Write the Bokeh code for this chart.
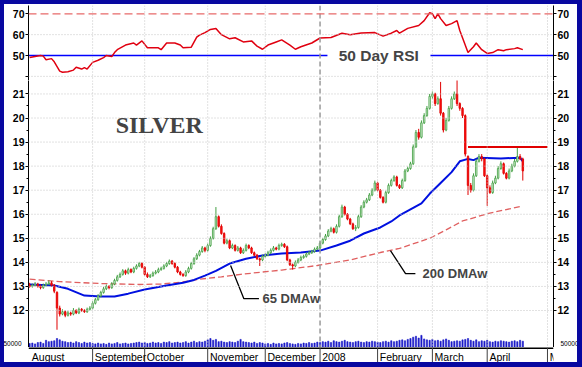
from bokeh.plotting import figure
from bokeh.models import Range1d, LinearAxis, FixedTicker, Label, Span, ColumnDataSource
from bokeh.layouts import column
from bokeh.embed import file_html
from bokeh.resources import INLINE
from bokeh.core.properties import value

try:
    from bokeh.models import GlobalInlineStyleSheet
    page_css = [GlobalInlineStyleSheet(css=(
        "html, body { background-color: #0808a0; overflow: hidden; }"
        " body { padding: 0 !important; margin: 0 !important; }"
        " body::after { content: ''; position: fixed; left: 0; top: 0; right: 0; bottom: 0;"
        " box-sizing: border-box; border-style: solid; border-color: #0808a0;"
        " border-width: 4px 5px 5px 4px; pointer-events: none; z-index: 10000; }"))]
except Exception:
    page_css = []

# ---------------- data ----------------
month_names = ["August", "September", "October", "November", "December", "2008",
               "February", "March", "April", "M"]
month_idx = [0, 23, 42, 65, 86, 106, 127, 147, 167, 189]

close = [13.00, 13.05, 13.10, 13.00, 12.95, 13.05, 13.10, 13.15, 13.05, 12.80,
         12.10, 11.85, 11.95, 11.80, 11.90, 11.85, 12.00, 11.90, 12.05, 12.00,
         11.95, 12.05, 12.10, 12.30, 12.45, 12.60, 12.75, 12.90, 13.00, 12.95,
         13.10, 13.25, 13.40, 13.50, 13.65, 13.55, 13.70, 13.60, 13.75, 13.85,
         13.95, 13.80, 13.50, 13.40, 13.45, 13.55, 13.60, 13.70, 13.75, 13.85,
         13.95, 14.05, 13.95, 13.80, 13.60, 13.50, 13.45, 13.60, 13.75, 13.95,
         14.15, 14.30, 14.45, 14.60, 14.50, 14.70, 15.00, 15.40, 15.90, 15.50,
         15.20, 14.80, 14.90, 14.60, 14.70, 14.50, 14.60, 14.40, 14.50, 14.70,
         14.60, 14.40, 14.30, 14.15, 14.10, 14.25, 14.30, 14.40, 14.50, 14.60,
         14.55, 14.70, 14.75, 14.65, 14.10, 13.90, 13.85, 14.00, 14.10, 14.20,
         14.25, 14.35, 14.40, 14.45, 14.55, 14.60, 14.80, 14.95, 15.10, 15.30,
         15.40, 15.25, 15.50, 15.90, 16.30, 16.00, 15.80, 15.60, 15.40, 15.45,
         15.90, 16.30, 16.50, 16.60, 16.80, 17.00, 17.30, 17.00, 16.70, 16.50,
         16.90, 17.20, 17.40, 17.55, 17.20, 17.10, 17.40, 17.80, 17.90, 18.10,
         18.80, 19.40, 19.20, 19.80, 20.10, 20.40, 20.90, 21.00, 20.60, 20.80,
         20.20, 19.50, 19.90, 20.40, 20.80, 21.00, 20.60, 20.40, 20.10, 18.50,
         17.20, 17.00, 17.60, 18.20, 18.40, 18.30, 17.60, 17.10, 16.90, 17.30,
         17.50, 17.90, 18.10, 17.70, 17.50, 17.80, 18.00, 18.20, 18.40, 18.30,
         17.80]

open_ = [13.05, 13.00, 13.05, 13.10, 13.00, 12.95, 13.05, 13.10, 13.15, 13.05,
         12.75, 12.10, 11.85, 11.95, 11.80, 11.90, 11.85, 12.00, 11.90, 12.05,
         12.00, 11.95, 12.05, 12.10, 12.30, 12.45, 12.60, 12.75, 12.90, 13.00,
         12.95, 13.10, 13.25, 13.40, 13.50, 13.65, 13.55, 13.70, 13.60, 13.75,
         13.85, 13.95, 13.80, 13.50, 13.40, 13.45, 13.55, 13.60, 13.70, 13.75,
         13.85, 13.95, 14.05, 13.95, 13.80, 13.60, 13.50, 13.45, 13.60, 13.75,
         13.95, 14.15, 14.30, 14.45, 14.60, 14.50, 14.70, 15.00, 15.40, 15.90,
         15.50, 15.20, 14.80, 14.90, 14.60, 14.70, 14.50, 14.60, 14.40, 14.50,
         14.70, 14.60, 14.40, 14.30, 14.15, 14.10, 14.25, 14.30, 14.40, 14.50,
         14.60, 14.55, 14.70, 14.75, 14.65, 14.10, 13.90, 13.85, 14.00, 14.10,
         14.20, 14.25, 14.35, 14.40, 14.45, 14.55, 14.60, 14.80, 14.95, 15.10,
         15.30, 15.40, 15.25, 15.50, 15.90, 16.30, 16.00, 15.80, 15.60, 15.40,
         15.45, 15.90, 16.30, 16.50, 16.60, 16.80, 17.00, 17.30, 17.00, 16.70,
         16.50, 16.90, 17.20, 17.40, 17.55, 17.20, 17.10, 17.40, 17.80, 17.90,
         18.10, 18.80, 19.40, 19.20, 19.80, 20.10, 20.40, 20.90, 21.00, 20.60,
         20.80, 20.20, 19.50, 19.90, 20.40, 20.80, 21.00, 20.60, 20.40, 20.10,
         18.40, 17.20, 17.00, 17.60, 18.20, 18.40, 18.30, 17.60, 17.10, 16.90,
         17.30, 17.50, 17.90, 18.10, 17.70, 17.50, 17.80, 18.00, 18.20, 18.40,
         18.30]

high = [13.15, 13.12, 13.18, 13.15, 13.08, 13.12, 13.18, 13.25, 13.22, 13.10,
        12.80, 12.20, 12.05, 12.00, 11.98, 11.95, 12.10, 12.05, 12.12, 12.10,
        12.05, 12.12, 12.18, 12.38, 12.52, 12.68, 12.82, 12.98, 13.08, 13.05,
        13.18, 13.32, 13.48, 13.58, 13.72, 13.70, 13.78, 13.75, 13.82, 13.92,
        14.02, 14.00, 13.85, 13.58, 13.52, 13.62, 13.68, 13.78, 13.82, 13.92,
        14.02, 14.12, 14.10, 14.00, 13.85, 13.65, 13.55, 13.68, 13.82, 14.02,
        14.22, 14.38, 14.52, 14.68, 14.65, 14.78, 15.08, 15.48, 16.30, 15.95,
        15.58, 15.25, 14.98, 14.95, 14.78, 14.75, 14.68, 14.65, 14.58, 14.78,
        14.75, 14.65, 14.45, 14.35, 14.20, 14.32, 14.38, 14.48, 14.58, 14.68,
        14.65, 14.78, 14.82, 14.80, 14.70, 14.15, 13.95, 14.08, 14.18, 14.28,
        14.32, 14.42, 14.48, 14.52, 14.62, 14.68, 14.88, 15.02, 15.18, 15.38,
        15.48, 15.45, 15.58, 15.98, 16.40, 16.35, 16.05, 15.85, 15.65, 15.55,
        15.98, 16.38, 16.58, 16.68, 16.88, 17.08, 17.40, 17.35, 17.05, 16.75,
        16.98, 17.28, 17.48, 17.62, 17.60, 17.25, 17.48, 17.88, 17.98, 18.18,
        18.90, 19.50, 19.55, 19.90, 20.20, 20.50, 21.00, 21.10, 21.05, 20.90,
        21.50, 20.25, 20.00, 20.50, 20.90, 21.10, 21.60, 20.65, 20.45, 20.15,
        18.45, 17.30, 17.70, 18.30, 18.50, 18.50, 18.35, 17.65, 17.20, 17.40,
        17.60, 18.00, 18.20, 18.15, 17.75, 17.90, 18.10, 18.30, 18.80, 18.50,
        18.35]

low = [12.95, 12.95, 13.00, 12.95, 12.88, 12.90, 13.00, 13.05, 13.00, 12.72,
       11.20, 11.75, 11.80, 11.72, 11.75, 11.78, 11.80, 11.85, 11.85, 11.95,
       11.90, 11.90, 12.00, 12.05, 12.25, 12.40, 12.55, 12.70, 12.85, 12.88,
       12.90, 13.05, 13.20, 13.35, 13.45, 13.48, 13.50, 13.55, 13.55, 13.70,
       13.80, 13.75, 13.45, 13.35, 13.35, 13.40, 13.50, 13.55, 13.65, 13.70,
       13.80, 13.90, 13.90, 13.75, 13.55, 13.45, 13.40, 13.40, 13.55, 13.70,
       13.90, 14.10, 14.25, 14.40, 14.42, 14.45, 14.65, 14.95, 15.35, 15.45,
       15.15, 14.75, 14.75, 14.55, 14.55, 14.45, 14.45, 14.35, 14.35, 14.45,
       14.55, 14.35, 14.25, 14.10, 13.85, 14.05, 14.20, 14.25, 14.35, 14.45,
       14.50, 14.50, 14.65, 14.60, 14.05, 13.85, 13.70, 13.80, 13.95, 14.05,
       14.15, 14.20, 14.30, 14.35, 14.40, 14.50, 14.55, 14.75, 14.90, 15.05,
       15.25, 15.20, 15.20, 15.45, 15.85, 15.95, 15.75, 15.55, 15.35, 15.30,
       15.40, 15.85, 16.25, 16.45, 16.55, 16.75, 16.95, 16.95, 16.65, 16.45,
       16.45, 16.85, 17.15, 17.35, 17.15, 17.05, 17.05, 17.35, 17.75, 17.85,
       18.05, 18.75, 19.10, 19.15, 19.75, 20.05, 20.35, 20.80, 20.50, 20.55,
       20.10, 19.40, 19.45, 19.85, 20.35, 20.75, 20.50, 20.30, 20.00, 18.40,
       16.80, 16.90, 16.95, 17.55, 18.15, 18.20, 17.55, 16.35, 16.85, 16.85,
       17.25, 17.45, 17.85, 17.65, 17.45, 17.45, 17.75, 17.95, 18.15, 18.25,
       17.40]

volume_k = [45, 50, 40, 55, 60, 45, 80, 65, 70, 75, 100, 85, 70, 65, 55, 60, 50, 65, 55, 45,
            60, 50, 55,
            45, 40, 50, 40, 45, 35, 50, 40, 45, 55, 40, 45, 50,
            40, 45, 50, 55, 60, 50, 55, 45, 50, 60, 50, 55, 45, 60, 55, 65, 50, 55, 60, 50,
            55, 65, 50, 60, 70, 55, 65, 60, 70,
            85, 100, 80, 90, 65, 70, 60, 55,
            65, 60, 55, 70, 90, 65, 60, 55, 50, 60, 45, 55, 50,
            40, 45, 35, 50, 40, 45, 40, 50, 55, 45, 40, 35, 45,
            40, 50, 45, 55, 45, 50, 60,
            55, 65, 60, 70, 55, 75, 65, 60, 70, 80, 65, 60, 55,
            65, 70, 60, 55, 65, 60, 70, 65,
            60, 55, 65, 70, 60, 75, 65, 70, 80, 85, 75, 90, 100, 115, 125, 105, 135, 95, 85, 80,
            90, 75, 80, 70, 85, 95, 80, 65, 70, 75, 70, 85, 90, 100,
            80, 70, 85, 65, 75, 70, 80, 65, 60, 70, 65, 75, 70, 65, 60, 70, 75, 65, 80, 70]

ma65_idx = [0, 9, 14, 20, 26, 31, 36, 42, 50, 56, 60, 64, 68, 73, 79, 85, 92, 99, 106,
            112, 117, 122, 128, 132, 135, 139, 143, 146, 150, 154, 157, 160, 162, 164,
            172, 179, 180]
ma65_val = [13.08, 13.04, 12.90, 12.62, 12.58, 12.58, 12.70, 12.87, 13.04, 13.15, 13.27,
            13.45, 13.65, 13.95, 14.15, 14.29, 14.37, 14.41, 14.49, 14.70, 14.90, 15.20,
            15.45, 15.70, 15.95, 16.20, 16.45, 16.85, 17.30, 17.75, 18.20, 18.30, 18.25,
            18.35, 18.32, 18.35, 18.20]

ma200_idx = [0, 11, 26, 40, 48, 55, 62, 70, 77, 85, 92, 105, 117, 128, 135, 146, 152,
             158, 168, 179]
ma200_val = [13.30, 13.20, 13.12, 13.08, 13.10, 13.17, 13.30, 13.40, 13.50, 13.60, 13.68,
             13.87, 14.10, 14.41, 14.58, 15.00, 15.35, 15.72, 16.05, 16.32]

rsi_idx = [0, 2, 4, 5, 6, 8, 9, 11, 12, 14, 16, 17, 19, 20, 21, 23, 25, 27, 28, 30, 31,
           32, 35, 38, 39, 41, 43, 47, 48, 50, 53, 55, 56, 59, 61, 62, 64, 66, 68, 70,
           73, 75, 78, 81, 83, 85, 87, 90, 92, 95, 97, 99, 103, 106, 110, 114, 117, 121,
           126, 129, 132, 134, 135, 138, 142, 144, 146, 147, 148, 149, 150, 152, 154,
           156, 157, 160, 162, 163, 165, 167, 169, 171, 173, 174, 177, 178, 180]
rsi_val = [49, 49.5, 50, 49.7, 48, 48.5, 47, 42.5, 42, 42.2, 43, 44.4, 43.5, 44.2, 43.5,
           46.7, 47.7, 49, 50, 49.5, 51.4, 52.8, 55, 56, 55, 57, 53.7, 53.7, 52.8, 56, 56,
           55, 53.7, 54, 58.8, 59.8, 61, 62.5, 63, 60, 58, 58.5, 56.5, 57, 54.5, 53, 55,
           56.5, 57.5, 55, 53, 54.2, 56, 58.4, 58.6, 60.7, 60, 60.8, 61, 59.3, 60.7, 62,
           60.7, 63, 64.4, 66.7, 70.5, 70, 67.7, 70, 67.7, 64.4, 65.3, 66.7, 62, 51.4,
           54.2, 56, 52.8, 51, 51.4, 52.8, 52.3, 52.8, 53.3, 53.7, 52.8]

resistance = 18.8
resistance_span = [160, 189]
rsi_levels = [50, 70]
price_ticks = [12, 13, 14, 15, 16, 17, 18, 19, 20, 21]
rsi_ticks = [40, 50, 60, 70]
vol_ticks = [50000]

# ---------------- layout constants ----------------
X0, X1 = -0.4, 191.2
B = 28                      # side border width -> plot frame from x=28 to x=553
W = B + 525 + B
FONT = "Liberation Sans"
GRID = "#c4c4c4"

xr = Range1d(X0, X1)


def base_fig(h, yr, top=0):
    p = figure(width=W, height=h, x_range=xr, y_range=yr, output_backend="svg",
               toolbar_location=None, x_axis_location=None, y_axis_location=None,
               min_border_left=B, min_border_right=B, min_border_top=top,
               min_border_bottom=0, background_fill_color="white",
               border_fill_color="white", outline_line_color=None)
    p.xgrid.visible = False
    p.ygrid.visible = False
    p.extra_y_ranges = {"vol": Range1d(0, 2966667)}
    return p


def add_y(p, ticks, overrides, minor=None, show=True):
    for side in ("left", "right"):
        ax = LinearAxis(ticker=FixedTicker(ticks=ticks, minor_ticks=minor or []),
                        major_label_overrides=overrides)
        ax.axis_line_color = "black" if show else None
        ax.major_tick_line_color = "black" if show else None
        ax.minor_tick_line_color = "black" if show else None
        ax.major_tick_in = 0
        ax.major_tick_out = 3
        ax.minor_tick_in = 0
        ax.minor_tick_out = 2
        ax.major_label_standoff = 1
        ax.major_label_text_font = FONT
        ax.major_label_text_font_size = "10.5px"
        ax.major_label_text_font_style = "bold"
        ax.major_label_text_color = "black"
        ax.major_label_text_alpha = 1.0 if show else 0.0
        p.add_layout(ax, side)


def add_vol_axis(p, show=True):
    # tiny volume scale label in the outer strip of the axis border
    for side in ("left", "right"):
        ax = LinearAxis(y_range_name="vol", ticker=FixedTicker(ticks=vol_ticks, minor_ticks=[]),
                        major_label_overrides={vol_ticks[0]: "50000"})
        ax.axis_line_color = None
        ax.major_tick_line_color = None
        ax.minor_tick_line_color = None
        ax.major_tick_in = 0
        ax.major_tick_out = 6
        ax.major_label_standoff = -18
        ax.major_label_text_font = FONT
        ax.major_label_text_font_size = "6.5px"
        ax.major_label_text_color = "black"
        ax.major_label_text_alpha = 1.0 if show else 0.0
        p.add_layout(ax, side)


def vgrid(p):
    for m in month_idx[1:]:
        if m == 106:
            p.add_layout(Span(location=m, dimension="height", line_color="#9a9a9a",
                              line_dash="5 3", line_width=1.5))
        else:
            p.add_layout(Span(location=m, dimension="height", line_color=GRID,
                              line_dash="1 2", line_width=1))


# ---------------- RSI panel ----------------
rsi = base_fig(80, Range1d(38.01, 73.98), top=5)
vgrid(rsi)
for t in (40, 60):
    rsi.add_layout(Span(location=t, dimension="width", line_color=GRID, line_dash="1 2"))
rsi.add_layout(Span(location=rsi_levels[1], dimension="width", line_color="#e86a6a",
                    line_dash="8 4", line_width=1.2))
rsi.segment(x0=[X0, 146.3], y0=[rsi_levels[0]] * 2, x1=[108.7, X1], y1=[rsi_levels[0]] * 2,
            line_color="#0000ff", line_width=1.5)
rsi.line(rsi_idx, rsi_val, line_color="#e00010", line_width=1.5)
rsi.add_layout(Label(x=112.8, y=50, text="50 Day RSI", text_font=FONT,
                     text_font_size="15.5px", text_font_style="bold",
                     text_baseline="middle", text_align="left"))
add_y(rsi, rsi_ticks, {40: ""})
add_vol_axis(rsi, show=False)

# ---------------- price panel ----------------
price = base_fig(267, Range1d(10.462, 21.559))
vgrid(price)
for t in price_ticks:
    price.add_layout(Span(location=t, dimension="width", line_color=GRID, line_dash="1 2"))

idx = list(range(len(close)))
vol = [v * 1000 for v in volume_k]
price.vbar(x=idx, top=vol, bottom=0, width=0.45, y_range_name="vol",
           fill_color="#1a1ac8", line_color="#1a1ac8", line_width=0.6)

price.line(ma200_idx, ma200_val, line_color="#e06060", line_dash="6 3", line_width=1.3)
price.line(ma65_idx, ma65_val, line_color="#0010e0", line_width=2)

up = [i for i in idx if close[i] >= open_[i]]
dn = [i for i in idx if close[i] < open_[i]]
for sel, fill, edge in ((up, "#d8f0d8", "#44a044"), (dn, "#ff1010", "#e00000")):
    src = ColumnDataSource(dict(x=sel, o=[open_[i] for i in sel], c=[close[i] for i in sel],
                                h=[high[i] for i in sel], l=[low[i] for i in sel]))
    price.segment(x0="x", y0="l", x1="x", y1="h", source=src, line_color=edge, line_width=1)
    price.vbar(x="x", top="o", bottom="c", width=0.55, source=src,
               fill_color=fill, line_color=edge, line_width=0.8)

price.line(resistance_span, [resistance, resistance], line_color="#e00000", line_width=2)

# annotations
price.line([73.35, 78.2, 83.7], [13.87, 12.49, 12.49], line_color="black", line_width=1.3)
price.line([131.7, 137.2, 140.8], [14.49, 13.53, 13.53], line_color="black", line_width=1.3)
price.add_layout(Label(x=85.0, y=12.49, text="65 DMAw", text_font=FONT, text_font_size="13px",
                       text_font_style="bold", text_baseline="middle"))
price.add_layout(Label(x=143.4, y=13.53, text="200 DMAw", text_font=FONT, text_font_size="13px",
                       text_font_style="bold", text_baseline="middle"))
price.add_layout(Label(x=31.4, y=19.73, text="SILVER", text_font="Liberation Serif",
                       text_font_size="24px", text_font_style="bold", text_baseline="middle"))
add_y(price, price_ticks, {}, minor=[t + 0.5 for t in price_ticks[:-1]])
add_vol_axis(price)

# ---------------- month label row ----------------
lab = base_fig(15, Range1d(0, 1))
lab.segment(x0=[X0], y0=[0.97], x1=[X1], y1=[0.97], line_color="black", line_width=2)
lab.segment(x0=month_idx[1:], y0=[0] * 9, x1=month_idx[1:], y1=[1] * 9,
            line_color="#404040", line_width=1)
lab.text(x=[m + 0.8 for m in month_idx], y=[0.36] * len(month_idx), text=month_names,
         text_font=value(FONT), text_font_size="10.5px", text_align="left",
         text_baseline="middle", text_color="black")
add_y(lab, [0.5], {0.5: "21"}, show=False)
add_vol_axis(lab, show=False)

layout = column(rsi, price, lab, spacing=0, stylesheets=page_css,
                styles={"background-color": "white"})

open("out.html", "w").write(file_html(layout, INLINE))
